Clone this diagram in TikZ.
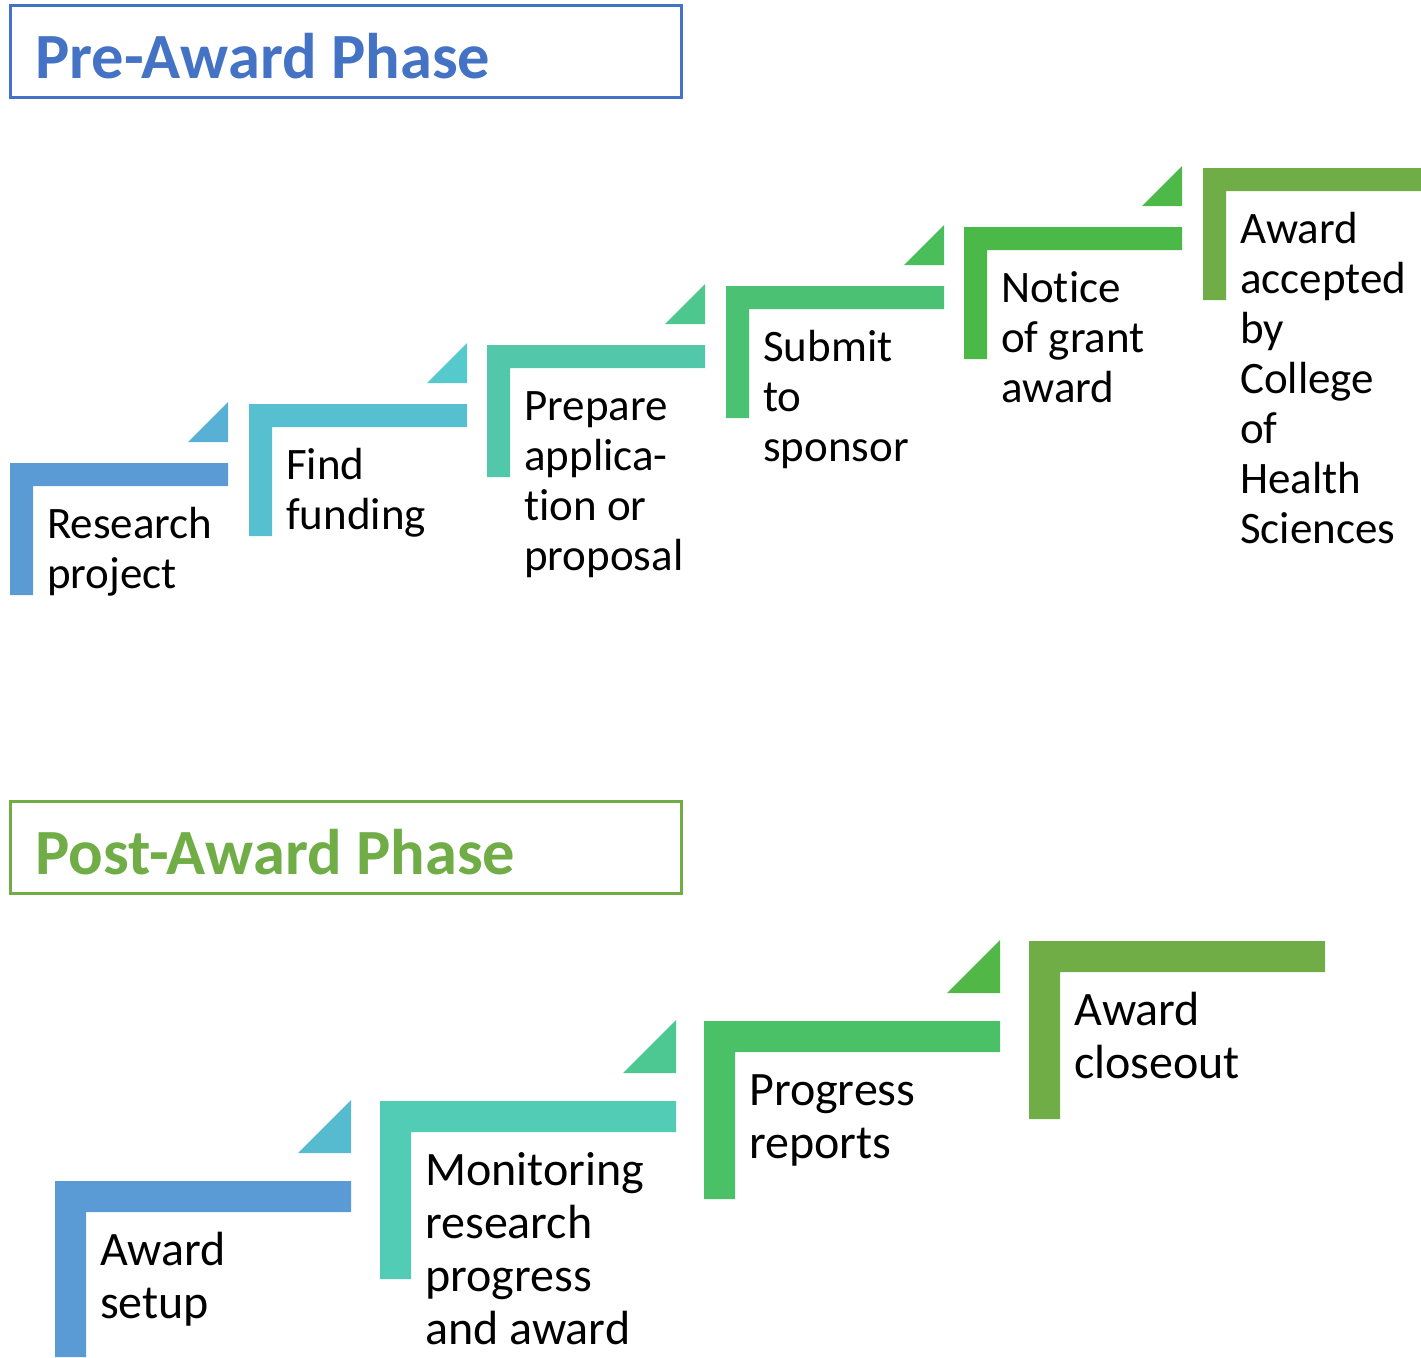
\documentclass[tikz,border=0pt]{standalone}
\usepackage{fontspec}
\setmainfont{Carlito}[Ligatures=NoCommon]
\usepackage{tikz}

\definecolor{preblue}{HTML}{4472C4}
\definecolor{postgreen}{HTML}{70AD47}
\definecolor{stepA}{HTML}{5B9BD5}
\definecolor{stepAB}{HTML}{58B1D4}
\definecolor{stepB}{HTML}{56BFD0}
\definecolor{stepBC}{HTML}{55C9CB}
\definecolor{stepC}{HTML}{52C7A9}
\definecolor{stepCD}{HTML}{4EC78F}
\definecolor{stepD}{HTML}{4BC174}
\definecolor{stepDE}{HTML}{4BBE5C}
\definecolor{stepE}{HTML}{4AB948}
\definecolor{stepEF}{HTML}{4EB848}
\definecolor{stepF}{HTML}{70AD47}
\definecolor{lowAB}{HTML}{57BBD0}
\definecolor{lowB}{HTML}{53CCB6}
\definecolor{lowBC}{HTML}{4EC893}
\definecolor{lowC}{HTML}{4BC167}
\definecolor{lowCD}{HTML}{51B847}

\begin{document}
\begin{tikzpicture}[x=1pt, y=-1pt]
        % base anchor of a multi-line node = baseline of its last line
        \tikzstyle{title} = [anchor=base west, inner sep=0pt, font=\bfseries\fontsize{64.5}{70}\selectfont]
        \tikzstyle{upper text} = [anchor=base west, align=left, inner sep=0pt, font=\fontsize{45}{50}\selectfont]
        \tikzstyle{lower text} = [anchor=base west, align=left, inner sep=0pt, font=\fontsize{48}{53}\selectfont]

    \useasboundingbox (0,0) rectangle (1421,1357);

    % pre-award
    \draw [preblue, line width=3pt] (10,5) rectangle (681,97);
    \node [title, text=preblue] (pre title) at (35,78) {Pre-Award Phase};

    \fill [stepA] (10,463) -- (228,463) -- (228,486) -- (33,486) -- (33,595) -- (10,595) -- cycle;
    \fill [stepAB] (188,442) -- (228,442) -- (228,402) -- cycle;
    \node [upper text] (research) at (47,588) {Research\\project};

    \fill [stepB] (249,404) -- (467,404) -- (467,427) -- (272,427) -- (272,536) -- (249,536) -- cycle;
    \fill [stepBC] (427,383) -- (467,383) -- (467,343) -- cycle;
    \node [upper text] (funding) at (286,529) {Find\\funding};

    \fill [stepC] (487,345) -- (705,345) -- (705,368) -- (510,368) -- (510,477) -- (487,477) -- cycle;
    \fill [stepCD] (665,324) -- (705,324) -- (705,284) -- cycle;
    \node [upper text] (prepare) at (524,570) {Prepare\\applica-\\tion or\\proposal};

    \fill [stepD] (726,286) -- (944,286) -- (944,309) -- (749,309) -- (749,418) -- (726,418) -- cycle;
    \fill [stepDE] (904,265) -- (944,265) -- (944,225) -- cycle;
    \node [upper text] (submit) at (763,461) {Submit\\to\\sponsor};

    \fill [stepE] (964,227) -- (1182,227) -- (1182,250) -- (987,250) -- (987,359) -- (964,359) -- cycle;
    \fill [stepEF] (1142,206) -- (1182,206) -- (1182,166) -- cycle;
    \node [upper text] (notice) at (1001,402) {Notice\\of grant\\award};

    \fill [stepF] (1203,168) -- (1421,168) -- (1421,191) -- (1226,191) -- (1226,300) -- (1203,300) -- cycle;
    \node [upper text] (accepted) at (1240,543) {Award\\accepted\\by\\College\\of\\Health\\Sciences};

    % post-award
    \draw [postgreen, line width=3pt] (10,801) rectangle (681,893);
    \node [title, text=postgreen] (post title) at (35,874) {Post-Award Phase};

    \fill [stepA] (55,1181) -- (351,1181) -- (351,1212) -- (86,1212) -- (86,1357) -- (55,1357) -- cycle;
    \fill [lowAB] (298,1153) -- (351,1153) -- (351,1100) -- cycle;
    \node [lower text] (setup) at (100,1318) {Award\\setup};

    \fill [lowB] (380,1101) -- (676,1101) -- (676,1132) -- (411,1132) -- (411,1279) -- (380,1279) -- cycle;
    \fill [lowBC] (623,1073) -- (676,1073) -- (676,1020) -- cycle;
    \node [lower text] (monitoring) at (425,1344) {Monitoring\\research\\progress\\and award};

    \fill [lowC] (704,1021) -- (1000,1021) -- (1000,1052) -- (735,1052) -- (735,1199) -- (704,1199) -- cycle;
    \fill [lowCD] (947,993) -- (1000,993) -- (1000,940) -- cycle;
    \node [lower text] (reports) at (749,1158) {Progress\\reports};

    \fill [postgreen] (1029,941) -- (1325,941) -- (1325,972) -- (1060,972) -- (1060,1119) -- (1029,1119) -- cycle;
    \node [lower text] (closeout) at (1074,1078) {Award\\closeout};
\end{tikzpicture}
\end{document}
